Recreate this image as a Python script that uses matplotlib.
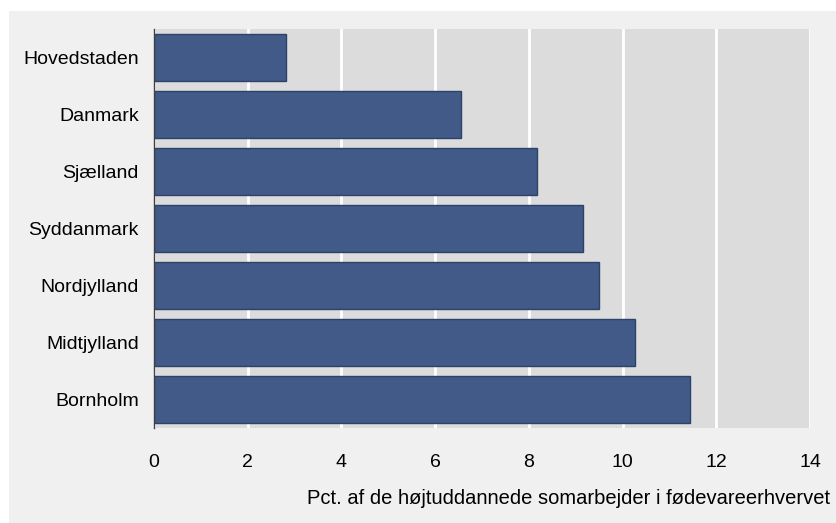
import matplotlib
matplotlib.use("Agg")
import matplotlib.pyplot as plt
from matplotlib.patches import Rectangle

categories = ["Hovedstaden", "Danmark", "Sjælland", "Syddanmark", "Nordjylland", "Midtjylland", "Bornholm"]
values = [2.82, 6.55, 8.18, 9.15, 9.5, 10.27, 11.44]
xticks = [0, 2, 4, 6, 8, 10, 12, 14]
xlabel = "Pct. af de højtuddannede somarbejder i fødevareerhvervet"

plt.rcParams["font.family"] = ["Liberation Sans", "DejaVu Sans"]
fs = 14

W, H = 837, 523
fig = plt.figure(figsize=(W / 100, H / 100), dpi=100, facecolor="#F0F0F0")
fig.patches.append(Rectangle((0, (H - 11) / H), 1, 11 / H + 0.01, transform=fig.transFigure,
                             facecolor="white", edgecolor="none", zorder=-10))
fig.patches.append(Rectangle((0, 0), 9 / W, 1, transform=fig.transFigure,
                             facecolor="white", edgecolor="none", zorder=-10))

ax = fig.add_axes([154 / W, 1 - 428 / H, (810 - 154) / W, (428 - 29) / H])
ax.set_facecolor("#DCDCDC")
ypos = list(range(len(categories)))
ax.barh(ypos, values, height=0.82, color="#415A88", edgecolor="#2E4269", linewidth=1, zorder=3)
ax.set_ylim(len(categories) - 0.5, -0.5)
ax.set_xlim(0, 14)
ax.set_xticks(xticks)
ax.set_xticklabels([str(t) for t in xticks], fontsize=fs)
ax.set_yticks(ypos)
ax.set_yticklabels(categories, fontsize=fs)
ax.tick_params(axis="both", length=0, colors="black")
ax.tick_params(axis="x", pad=19)
ax.tick_params(axis="y", pad=11)
ax.grid(axis="x", color="white", linewidth=2, zorder=1)
for s in ["top", "right", "bottom"]:
    ax.spines[s].set_visible(False)
ax.spines["left"].set_color("#404040")
ax.spines["left"].set_linewidth(1)
ax.spines["left"].set_zorder(4)

fig.text(830 / W, 1 - 498 / H, xlabel, ha="right", va="center", fontsize=14.5)

fig.savefig("out.png", dpi=100, facecolor=fig.get_facecolor())
